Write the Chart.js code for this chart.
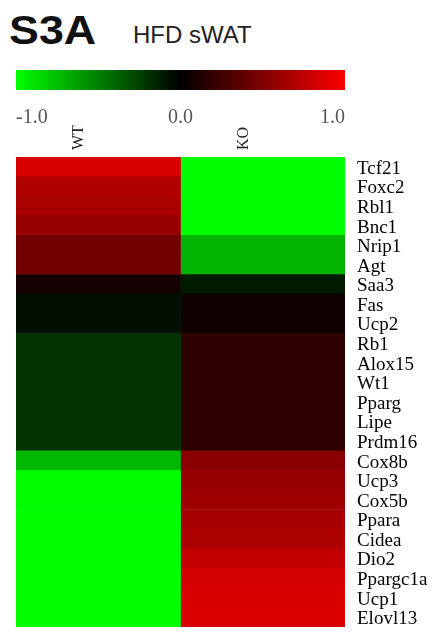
<!DOCTYPE html>
<html><head><meta charset="utf-8">
<script src="https://cdn.jsdelivr.net/npm/chart.js@4/dist/chart.umd.min.js"></script>
<style>
html,body{margin:0;padding:0;background:#fff;}
body{width:434px;height:632px;position:relative;overflow:hidden;}
#t1{position:absolute;left:9px;top:10px;font:bold 40px "Liberation Sans",Arial,sans-serif;line-height:40px;color:#111;transform:scaleX(1.12);transform-origin:0 0;white-space:nowrap;}
#t2{position:absolute;left:133px;top:23px;font:24px "Liberation Sans",Arial,sans-serif;line-height:24px;color:#222;white-space:nowrap;}
#cb{position:absolute;left:0;top:60px;}
#hm{position:absolute;left:0;top:120px;}
</style></head>
<body>
<div id="t1">S3A</div>
<div id="t2">HFD sWAT</div>
<canvas id="cb" width="434" height="70"></canvas>
<canvas id="hm" width="434" height="512"></canvas>
<script>
const genes = ['Tcf21','Foxc2','Rbl1','Bnc1','Nrip1','Agt','Saa3','Fas','Ucp2','Rb1','Alox15','Wt1','Pparg','Lipe','Prdm16','Cox8b','Ucp3','Cox5b','Ppara','Cidea','Dio2','Ppargc1a','Ucp1','Elovl13'];
const groups = ['WT','KO'];
const wtValues = [0.85,0.69,0.67,0.6,0.45,0.45,0.08,-0.06,-0.06,-0.2,-0.2,-0.2,-0.2,-0.2,-0.2,-0.72,-1,-1,-1,-1,-1,-1,-1,-1];
const koValues = [-1,-1,-1,-1,-0.7,-0.7,-0.1,0.06,0.06,0.18,0.18,0.18,0.18,0.18,0.18,0.54,0.59,0.62,0.65,0.68,0.76,0.83,0.85,0.86];
const scaleRange = [-1,1];
const scaleTicks = [-1,0,1];
const scaleTickLabels = ['-1.0','0.0','1.0'];

function colorFor(v){
  if (v < 0) return 'rgb(0,' + Math.round(255*Math.min(1,-v)) + ',0)';
  return 'rgb(' + Math.round(255*Math.min(1,v)) + ',0,0)';
}

const serifFont = '"Liberation Serif", "DejaVu Serif", serif';

// Colour bar
new Chart(document.getElementById('cb'), {
  type: 'bar',
  data: {
    labels: [''],
    datasets: [{
      data: [scaleRange],
      borderWidth: 0,
      barPercentage: 1,
      categoryPercentage: 1,
      backgroundColor: (ctx) => {
        const ch = ctx.chart;
        const sx = ch.scales && ch.scales.x;
        if (!sx || !ch.chartArea) return '#000';
        const g = ch.ctx.createLinearGradient(sx.getPixelForValue(scaleRange[0]),0,sx.getPixelForValue(scaleRange[1]),0);
        g.addColorStop(0, colorFor(-1));
        g.addColorStop(0.5, colorFor(0));
        g.addColorStop(1, colorFor(1));
        return g;
      }
    }]
  },
  options: {
    indexAxis: 'y',
    responsive: false,
    animation: false,
    layout: { padding: { left: 16, right: 89, top: 10, bottom: 0 } },
    plugins: { legend: { display: false }, tooltip: { enabled: false } },
    scales: {
      y: { display: false },
      x: {
        type: 'linear', min: scaleRange[0], max: scaleRange[1],
        grid: { display: false, drawTicks: false },
        border: { display: false },
        afterFit: s => { s.height = 40; s.paddingLeft = 0; s.paddingRight = 0; },
        afterBuildTicks: s => { s.ticks = scaleTicks.map(v => ({ value: v })); },
        ticks: {
          align: 'inner',
          padding: 16,
          color: '#555',
          font: { family: serifFont, size: 20 },
          callback: (v, i) => scaleTickLabels[i]
        }
      }
    }
  }
});

// Heatmap
new Chart(document.getElementById('hm'), {
  type: 'bar',
  data: {
    labels: genes,
    datasets: [
      { label: groups[0], data: genes.map(() => 1), backgroundColor: wtValues.map(colorFor), borderWidth: 0, barPercentage: 1, categoryPercentage: 1 },
      { label: groups[1], data: genes.map(() => 1), backgroundColor: koValues.map(colorFor), borderWidth: 0, barPercentage: 1, categoryPercentage: 1 }
    ]
  },
  options: {
    indexAxis: 'y',
    responsive: false,
    animation: false,
    layout: { padding: { left: 16, right: 0, top: 0, bottom: 5 } },
    plugins: { legend: { display: false }, tooltip: { enabled: false } },
    scales: {
      x: {
        type: 'linear', position: 'top', stacked: true, min: 0, max: groups.length,
        grid: { display: false, drawTicks: false },
        border: { display: false },
        afterFit: s => { s.height = 37; s.paddingLeft = 0; s.paddingRight = 0; },
        afterBuildTicks: s => { s.ticks = groups.map((g, i) => ({ value: i + 0.5 })); },
        ticks: {
          minRotation: 90, maxRotation: 90,
          padding: 7,
          color: '#222',
          font: { family: serifFont, size: 16 },
          callback: (v, i) => groups[i]
        }
      },
      y: {
        type: 'category', position: 'right', stacked: true,
        grid: { display: false, drawTicks: false },
        border: { display: false },
        afterFit: s => { s.width = 89; s.paddingTop = 0; s.paddingBottom = 0; },
        ticks: {
          autoSkip: false,
          padding: 12,
          labelOffset: 2,
          color: '#000',
          font: { family: serifFont, size: 19 }
        }
      }
    }
  }
});
</script>
</body></html>
